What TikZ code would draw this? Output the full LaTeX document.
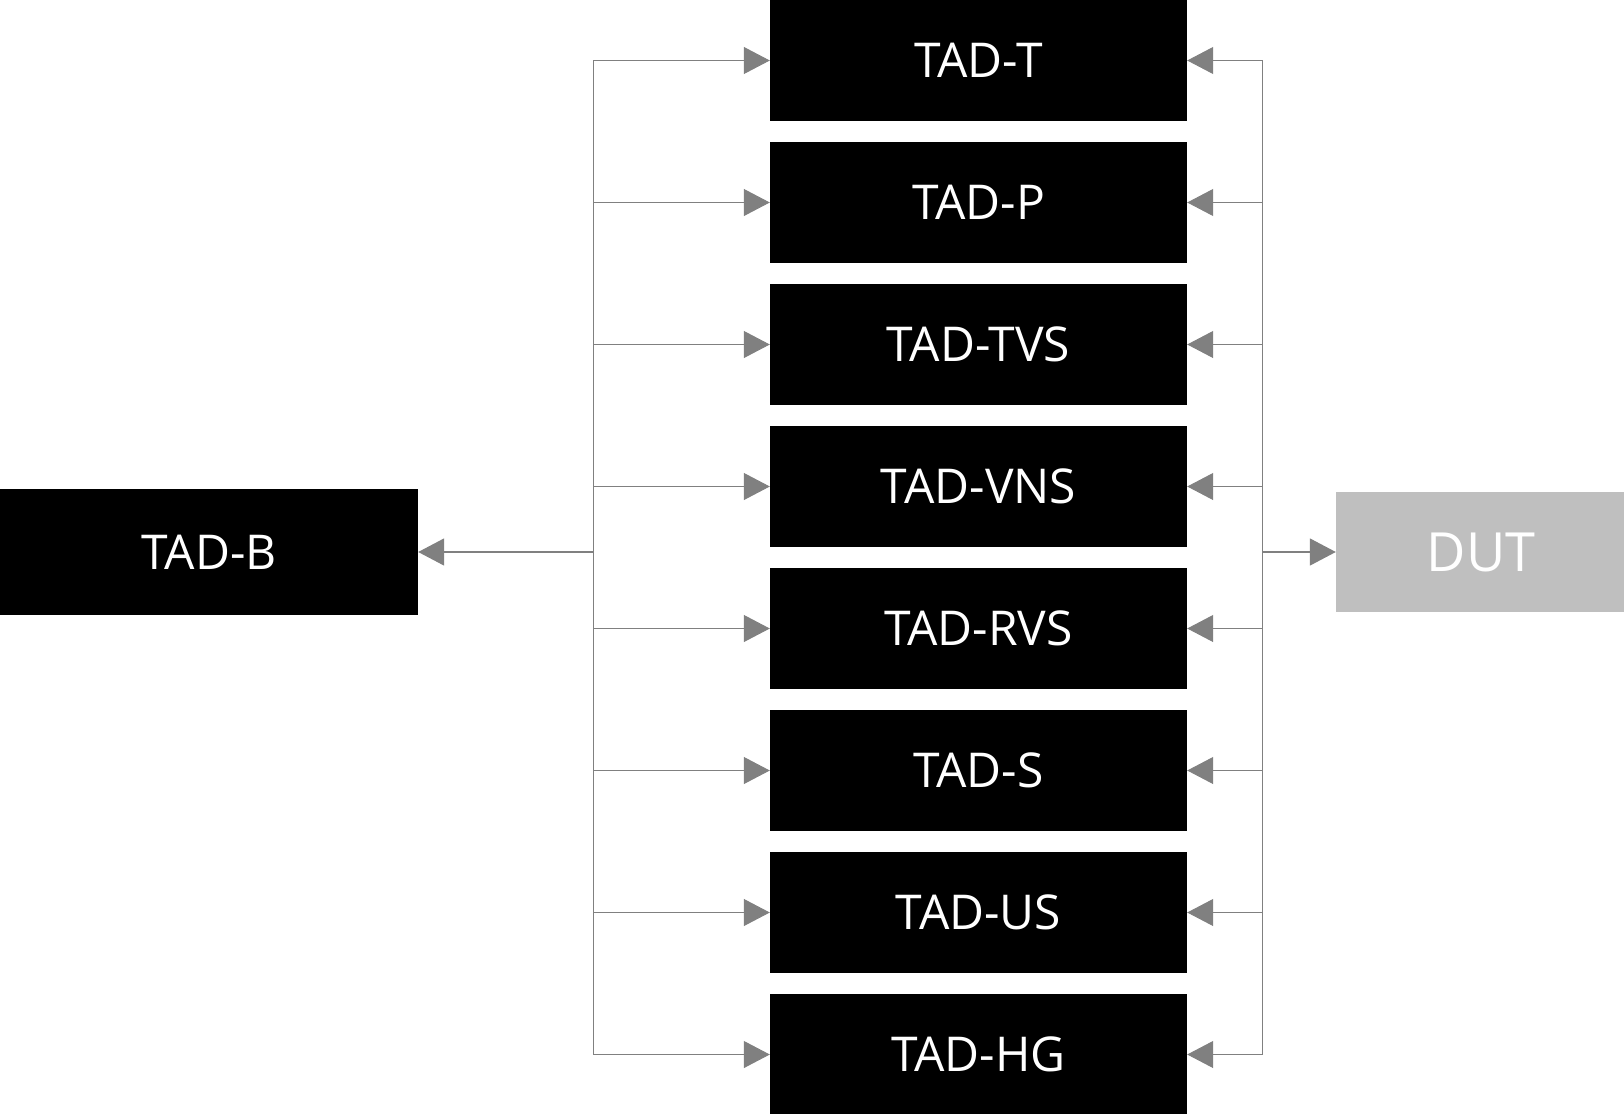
\documentclass[tikz,border=0pt]{standalone}
\usepackage{fontspec}
\setmainfont{Open Sans}
\usetikzlibrary{positioning,arrows.meta}

\definecolor{linkgray}{HTML}{808080}
\definecolor{dutgray}{HTML}{BFBFBF}

\tikzset{
  tad/.style={rectangle,fill=black,text=white,inner sep=0pt,
    minimum width=417pt,minimum height=121pt,
    font=\fontsize{48}{56}\selectfont},
  dutbox/.style={rectangle,fill=dutgray,text=white,inner sep=0pt,
    minimum width=290pt,minimum height=120pt,
    font=\fontsize{54}{62}\selectfont},
  link/.style={draw=linkgray,line width=1pt,
    -{Triangle[length=26pt,width=27pt,fill=linkgray]}},
  mainlink/.style={link,line width=1.6pt}
}

\begin{document}
\begin{tikzpicture}[x=1pt,y=-1pt,node distance=20.6pt]
            \useasboundingbox (0,0) rectangle (1624,1113);
            \node[tad](t) at (978.5,60.5){TAD-T};
            \node[tad](p)[below =of t]{TAD-P};
            \node[tad](tvs)[below =of p]{TAD-TVS};
            \node[tad](vns)[below =of tvs]{TAD-VNS};
            \node[tad](rvs)[below =of vns]{TAD-RVS};
            \node[tad](s)[below =of rvs]{TAD-S};
            \node[tad](us)[below =of s]{TAD-US};
            \node[tad](hg)[below =of us]{TAD-HG};
            \node[tad,minimum width=418pt,minimum height=126pt](b) at (209,552){TAD-B};
            \node[dutbox](dut) at (1481,552){DUT};
            \coordinate (lj) at (593,552);
            \coordinate (rj) at (1262,552);
            % left side: to TAD-B and to every box
            \draw[mainlink] (lj) -- (b);
            \draw[link] (lj) |- (t);
            \draw[link] (lj) |- (p);
            \draw[link] (lj) |- (tvs);
            \draw[link] (lj) |- (vns);
            \draw[link] (lj) |- (rvs);
            \draw[link] (lj) |- (s);
            \draw[link] (lj) |- (us);
            \draw[link] (lj) |- (hg);
            % right side: from every box to DUT
            \draw[mainlink] (rj) -- (dut);
            \draw[link] (rj) |- (t);
            \draw[link] (rj) |- (p);
            \draw[link] (rj) |- (tvs);
            \draw[link] (rj) |- (vns);
            \draw[link] (rj) |- (rvs);
            \draw[link] (rj) |- (s);
            \draw[link] (rj) |- (us);
            \draw[link] (rj) |- (hg);
        \end{tikzpicture}
\end{document}
